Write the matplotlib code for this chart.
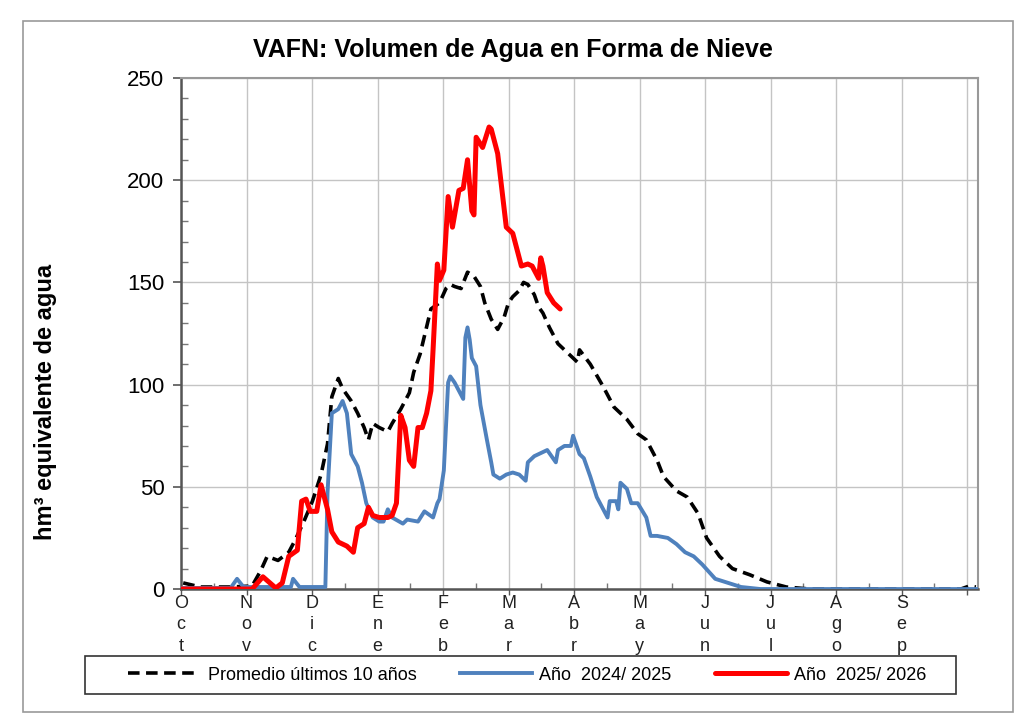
import numpy as np
import matplotlib
matplotlib.use('Agg')
import matplotlib.pyplot as plt
from matplotlib.patches import Rectangle
from matplotlib.ticker import MultipleLocator

plt.rcParams['font.family'] = ['Liberation Sans', 'DejaVu Sans']

# dias desde el 1 de octubre, volumen en hm3
prom_dia = [1, 9, 23, 33, 37, 40, 45, 50, 53, 57, 61, 65, 68, 70, 73, 75, 79, 82, 85, 87,
            89, 92, 96, 98, 102, 106, 108, 110, 111, 116, 120, 123, 125, 127, 130, 133, 136,
            139, 141, 144, 147, 150, 152, 154, 157, 159, 161, 164, 166, 168, 171, 175, 179,
            184, 185, 190, 196, 201, 207, 212, 216, 221, 224, 230, 235, 240, 244, 250, 256,
            264, 272, 281, 292, 362, 366, 369]
prom_vol = [3, 1, 1, 1.5, 9, 16, 14, 18, 24, 33, 43, 56, 71, 94, 103, 98, 92, 86, 79, 73,
            81, 79, 77, 81, 88, 96, 106, 112, 115, 137, 140, 147, 149, 148, 147, 155, 153,
            148, 140, 132, 127, 133, 140, 143, 146, 150, 149, 144, 138, 135, 128, 120, 116,
            111, 117, 110, 99, 89, 83, 76, 73, 63, 55, 48, 45, 37, 25, 16, 10,
            7, 3.5, 1, 0, 0, 1.5, 1]

a2425_dia = [0, 23, 26, 29, 51, 52, 55, 67, 68, 70, 73, 75, 77, 79, 82, 84, 86, 89, 92, 94,
             96, 98, 103, 105, 110, 113, 117, 119, 120, 122, 124, 125, 127, 131, 132, 133,
             134, 135, 137, 139, 142, 144, 145, 148, 151, 154, 157, 160, 161, 164, 168, 170,
             174, 175, 178, 181, 182, 185, 187, 190, 193, 198, 199, 202, 203, 204, 207, 209,
             212, 216, 218, 221, 226, 230, 234, 238, 242, 248, 254, 260, 269, 370]
a2425_vol = [0.5, 0.5, 5, 1, 1, 5, 1, 1, 47, 86, 88, 92, 86, 66, 60, 52, 42, 35, 33, 33,
             39, 35, 32, 34, 33, 38, 35, 42, 44, 58, 101, 104, 101, 93, 123, 128,
             122, 113, 109, 90, 73, 62, 56, 54, 56, 57, 56, 53, 62, 65, 67, 68,
             62, 68, 70, 70, 75, 66, 64, 55, 45, 35, 43, 43, 39, 52, 49, 42,
             42, 35, 26, 26, 25, 22, 18, 16, 12, 5, 3, 1, 0, 0]

a2526_dia = [0, 33, 38, 44, 47, 50, 54, 56, 58, 60, 63, 65, 68, 70, 73, 77, 80, 82, 85, 87,
             89, 92, 96, 98, 100, 102, 104, 106, 108, 110, 112, 114, 116, 117, 119, 120, 122,
             124, 126, 129, 131, 133, 135, 136, 137, 140, 143, 144, 147, 149, 151, 154, 156,
             158, 161, 163, 166, 167, 168, 170, 173, 176]
a2526_vol = [0, 0, 6, 0.5, 3, 16, 19, 43, 44, 38, 38, 51, 39, 28, 23, 21, 18, 30, 32, 40,
             36, 35, 35, 36, 42, 85, 79, 63, 60, 79, 79, 86, 97, 117, 159, 151, 156,
             192, 177, 195, 196, 210, 185, 183, 221, 216, 226, 225, 213, 195, 177, 174, 166,
             158, 159, 158, 152, 162, 158, 145, 140, 137]

meses = ['Oct', 'Nov', 'Dic', 'Ene', 'Feb', 'Mar', 'Abr', 'May', 'Jun', 'Jul', 'Ago', 'Sep']
mes_largo = 365 / 12


def plot_nieve():
  fig = plt.figure(figsize=(10.24, 7.14), dpi=100)
  ax = fig.add_axes([0.1768, 0.175, 0.7783, 0.7158])

  ax.plot(prom_dia, prom_vol, color='black', lw=2.6, dashes=(3.2, 1.8),
          label='Promedio últimos 10 años', zorder=3)
  ax.plot(a2425_dia, a2425_vol, color='#4f81bd', lw=2.8,
          label='Año  2024/ 2025', zorder=4)
  ax.plot(a2526_dia, a2526_vol, color='#ff0000', lw=3.6, solid_capstyle='round',
          label='Año  2025/ 2026', zorder=5)

  ax.set_xlim(0, 370)
  ax.set_ylim(0, 250)

  ticks = [i * mes_largo for i in range(13)]
  ax.set_xticks(ticks)
  ax.set_xticklabels(['\n'.join(m) for m in meses] + [''], fontsize=13, linespacing=1.32,
                     color='#222222')
  ax.set_xticks([(i + 0.5) * mes_largo for i in range(12)], minor=True)
  ax.yaxis.set_major_locator(MultipleLocator(50))
  ax.yaxis.set_minor_locator(MultipleLocator(10))
  ax.tick_params(axis='y', which='major', direction='out', length=6, width=1.2,
                 labelsize=16, pad=6, color='#555555')
  ax.tick_params(axis='y', which='minor', direction='in', length=5, width=1, color='#777777')
  ax.tick_params(axis='x', which='major', direction='out', length=4, width=1,
                 pad=0.5, color='#555555')
  ax.tick_params(axis='x', which='minor', direction='in', length=4, width=1, color='#777777')

  ax.grid(True, which='major', color='#c4c4c4', lw=1)
  ax.set_axisbelow(True)
  for side in ['left', 'bottom']:
    ax.spines[side].set_color('#555555')
    ax.spines[side].set_linewidth(1.8)
  for side in ['top', 'right']:
    ax.spines[side].set_color('#999999')
    ax.spines[side].set_linewidth(1.5)

  fig.text(0.501, 0.93, 'VAFN: Volumen de Agua en Forma de Nieve', ha='center', va='center',
           fontsize=18, fontweight='bold')
  fig.text(0.044, 0.437, 'hm³ equivalente de agua', ha='center', va='center', rotation=90,
           fontsize=17, fontweight='bold')

  # caja de la leyenda dibujada aparte
  fig.patches.append(Rectangle((0.083, 0.028), 0.8506, 0.0532, transform=fig.transFigure,
                               fill=False, edgecolor='#333333', lw=1.2))
  fig.legend(loc='center', ncol=3, bbox_to_anchor=(0.515, 0.0546),
             fontsize=13, handlelength=4.0, handletextpad=0.4, columnspacing=2.4,
             frameon=False, borderaxespad=0)

  fig.patches.append(Rectangle((0.0225, 0.003), 0.967, 0.968, transform=fig.transFigure,
                               fill=False, edgecolor='#999999', lw=1.2))

  fig.savefig('out.png', dpi=100)


plot_nieve()
